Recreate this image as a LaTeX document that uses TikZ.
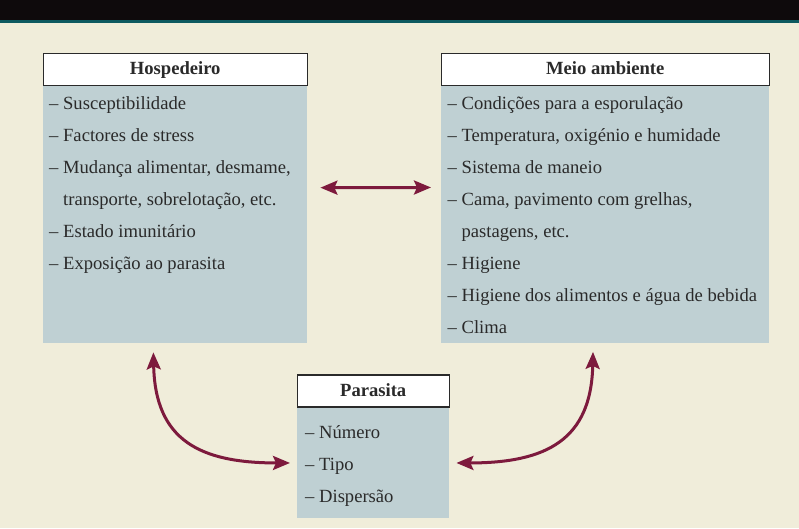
\documentclass[tikz,border=0pt]{standalone}
\usepackage{fontspec}
\setmainfont{Liberation Serif}
\usepackage{xcolor}
\usetikzlibrary{arrows.meta,positioning}
\definecolor{paper}{HTML}{F0EDDA}
\definecolor{panel}{HTML}{BFD0D3}
\definecolor{wine}{HTML}{7D1A3D}
\definecolor{ink}{HTML}{2A2A2A}
\definecolor{rim}{HTML}{0D5A60}
\definecolor{topbar}{HTML}{0E0A0C}

\begin{document}
\begin{tikzpicture}[
  x=1pt, y=-1pt,
  head/.style={draw=ink, line width=1.4pt, fill=white, minimum height=32pt, inner sep=0pt, text height=14pt, text depth=3pt, font=\fontsize{18.6}{22}\selectfont\bfseries, text=ink},
  panelbox/.style={fill=panel, inner ysep=0pt, anchor=north west, font=\fontsize{18.6}{32.1}\selectfont, text=ink},
  link/.style={{Stealth[length=17pt,width=14pt,inset=3pt]}-{Stealth[length=17pt,width=14pt,inset=3pt]}, line width=3pt, wine}
]
\fill[paper] (0,0) rectangle (799,528);
\fill[topbar] (0,0) rectangle (799,20);
\fill[rim] (0,20) rectangle (799,23);
\useasboundingbox (0,0) rectangle (799,528);

\node[panelbox, inner xsep=6pt] (hostbody) at (43,86) {\parbox[t][257pt][t]{252pt}{\raggedright\rule{0pt}{23pt}– Susceptibilidade\\
  – Factores de stress\\
  – Mudança alimentar, desmame,\\
  \phantom{–\ }transporte, sobrelotação, etc.\\
  – Estado imunitário\\
  – Exposição ao parasita}};
\node[panelbox, inner xsep=6.5pt] (envbody) at (441,86) {\parbox[t][256.5pt][t]{315pt}{\raggedright\rule{0pt}{23pt}– Condições para a esporulação\\
  – Temperatura, oxigénio e humidade\\
  – Sistema de maneio\\
  – Cama, pavimento com grelhas,\\
  \phantom{–\ }pastagens, etc.\\
  – Higiene\\
  – Higiene dos alimentos e água de bebida\\
  – Clima}};
\node[panelbox, inner xsep=8pt] (parbody) at (297,407.5) {\parbox[t][110.5pt][t]{136pt}{\raggedright\rule{0pt}{31pt}– Número\\
  – Tipo\\
  – Dispersão}};

\node[head, minimum width=264pt, above=0pt of hostbody] (host) {Hospedeiro};
\node[head, minimum width=328pt, above=0pt of envbody] (env) {Meio ambiente};
\node[head, minimum width=152pt, above=0pt of parbody] (par) {Parasita};

\draw[link, shorten <=13pt, shorten >=10pt] ([yshift=27pt]hostbody.east) -- ([yshift=27pt]envbody.west);
\draw[link, shorten <=9pt, shorten >=7pt] ([xshift=-22pt]hostbody.south) .. controls +(2,97) and +(-97,0) .. (parbody.west);
\draw[link, shorten <=9pt, shorten >=7pt] ([xshift=-12pt]envbody.south) .. controls +(-2,97) and +(97,0) .. (parbody.east);
\end{tikzpicture}
\end{document}
